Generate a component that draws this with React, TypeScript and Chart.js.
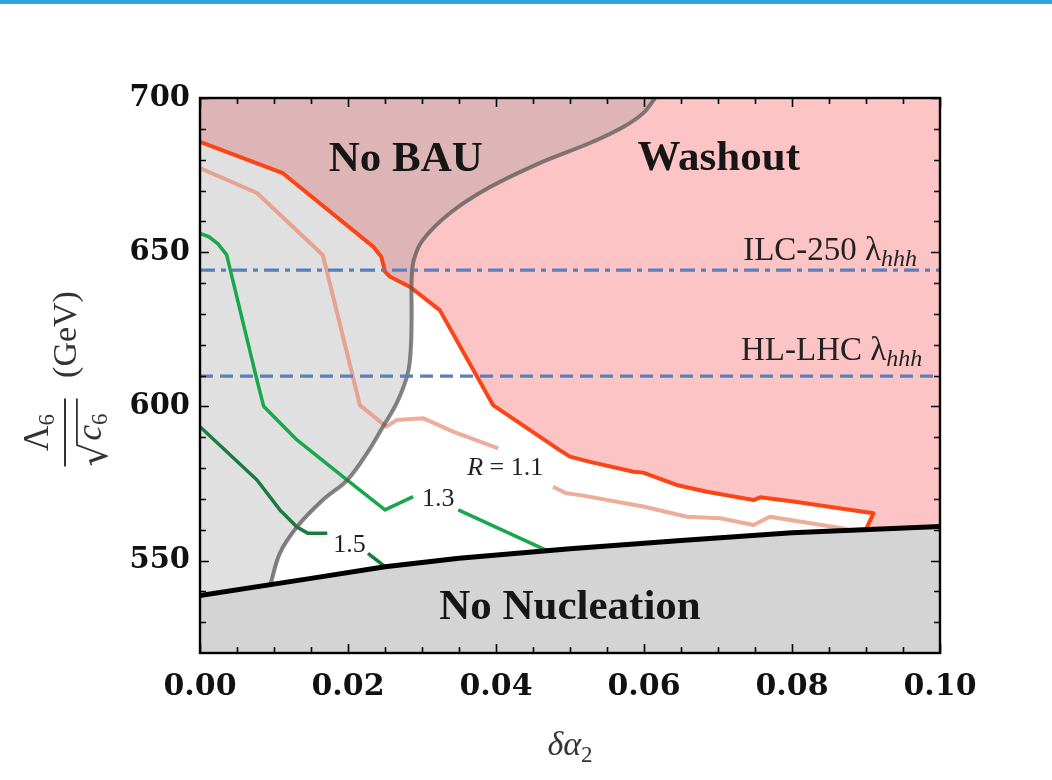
import React, { useEffect, useRef } from 'react';
import { Chart, registerables } from 'chart.js';

Chart.register(...registerables);

// ---------- axes ----------
const X_MIN = 0;
const X_MAX = 0.1;
const Y_MIN = 520;
const Y_MAX = 700;
const xTickValues = [0, 0.02, 0.04, 0.06, 0.08, 0.1];
const xTickLabels = ['0.00', '0.02', '0.04', '0.06', '0.08', '0.10'];
const xMinorTicks = [0.005, 0.01, 0.015, 0.025, 0.03, 0.035, 0.045, 0.05, 0.055, 0.065, 0.07, 0.075, 0.085, 0.09, 0.095];
const yTickValues = [550, 600, 650, 700];
const yTickLabels = ['550', '600', '650', '700'];
const yMinorTicks = [530, 540, 560, 570, 580, 590, 610, 620, 630, 640, 660, 670, 680, 690];

// ---------- curves ----------
// nucleation boundary (black)
const nucX = [0, 0.015, 0.025, 0.035, 0.05, 0.065, 0.08, 0.1];
const nucY = [538.6, 544.2, 548.0, 550.7, 553.8, 556.5, 559.0, 561.0];

// BAU boundary (grey), bottom to top
const bauX = [0.0095, 0.0108, 0.0131, 0.0166, 0.0199, 0.0226, 0.0247, 0.0266, 0.0281, 0.0285, 0.0286, 0.0286, 0.0289, 0.0301, 0.0338, 0.0392, 0.0459, 0.0527, 0.0572, 0.0599, 0.0615];
const bauY = [542.0, 552.4, 560.9, 569.6, 576.1, 584.9, 593.3, 601.1, 610.8, 619.2, 630.0, 641.0, 647.5, 653.9, 662.7, 671.1, 678.9, 685.4, 690.6, 695.1, 700.0];

// washout boundary (red)
const washX = [0, 0.0112, 0.0234, 0.0245, 0.025, 0.0257, 0.0284, 0.0324, 0.0396, 0.0486, 0.05, 0.0527, 0.0586, 0.0599, 0.0644, 0.0685, 0.0748, 0.0757, 0.0802, 0.091, 0.0901];
const washY = [685.8, 675.6, 651.8, 648.5, 643.7, 642.0, 638.7, 631.2, 600.4, 585.8, 583.7, 582.0, 578.8, 578.5, 574.5, 572.3, 569.6, 570.5, 569.1, 565.3, 560.6];

// R = 1.1 contour (salmon), null = label gap
const r11X = [0, 0.0077, 0.0166, 0.0216, 0.0252, 0.0266, 0.0302, 0.0342, 0.0403, null, 0.0477, 0.0495, 0.0514, 0.0599, 0.0658, 0.0703, 0.0748, 0.077, 0.0874];
const r11Y = [677.3, 669.2, 649.1, 600.4, 593.4, 595.6, 596.1, 591.8, 586.4, null, 573.9, 571.8, 571.2, 567.5, 564.2, 563.7, 561.5, 564.2, 560.2];

// R = 1.3 contour (green)
const r13X = [0, 0.0012, 0.0024, 0.0036, 0.0077, 0.0086, 0.0131, 0.0199, 0.025, 0.0288, null, 0.0349, 0.0469];
const r13Y = [656.1, 655.0, 652.8, 649.1, 608.5, 600.0, 589.1, 576.1, 566.4, 570.7, null, 566.4, 553.2];

// R = 1.5 contour (dark green)
const r15X = [0, 0.0077, 0.0108, 0.0131, 0.0146, 0.0172, null, 0.0227, 0.025];
const r15Y = [593.4, 576.1, 566.4, 560.9, 558.8, 558.8, null, 552.3, 548.0];

// horizontal sensitivity lines
const ilcY = 644.2;
const hlY = 609.8;

// ---------- annotation texts (data coords) ----------
const regionLabels = [
  { text: 'No BAU', x: 0.0278, y: 676.4 },
  { text: 'Washout', x: 0.0701, y: 676.6 },
  { text: 'No Nucleation', x: 0.05, y: 531.0 },
];
const lineLabels = [
  { main: 'ILC-250 ', x: 0.0969, y: 647.5 },
  { main: 'HL-LHC ', x: 0.0976, y: 615.0 },
];
const contourLabels = [
  { italic: 'R', text: ' = 1.1', x: 0.0361, y: 577.7 },
  { italic: '', text: '1.3', x: 0.0300, y: 567.7 },
  { italic: '', text: '1.5', x: 0.0180, y: 552.9 },
];

type P = { x: number | null; y: number | null };
const pts = (xs: (number | null)[], ys: (number | null)[]): P[] => xs.map((x, i) => ({ x, y: ys[i] }));

const SERIF = '"Liberation Serif", "DejaVu Serif", serif';

const framePlugin = {
  id: 'frameTicks',
  afterDatasetsDraw(chart: any) {
    const { ctx, chartArea: a, scales } = chart;
    const xs = scales.x;
    const ys = scales.y;
    ctx.save();
    ctx.strokeStyle = '#000';
    ctx.lineWidth = 1.6;
    const major = 9;
    const minor = 6;
    const drawX = (v: number, len: number) => {
      const px = Math.round(xs.getPixelForValue(v)) + 0.5;
      ctx.beginPath();
      ctx.moveTo(px, a.bottom);
      ctx.lineTo(px, a.bottom - len);
      ctx.moveTo(px, a.top);
      ctx.lineTo(px, a.top + len);
      ctx.stroke();
    };
    const drawY = (v: number, len: number) => {
      const py = Math.round(ys.getPixelForValue(v)) + 0.5;
      ctx.beginPath();
      ctx.moveTo(a.left, py);
      ctx.lineTo(a.left + len, py);
      ctx.moveTo(a.right, py);
      ctx.lineTo(a.right - len, py);
      ctx.stroke();
    };
    xTickValues.forEach((v) => drawX(v, major));
    xMinorTicks.forEach((v) => drawX(v, minor));
    yTickValues.forEach((v) => drawY(v, major));
    yMinorTicks.forEach((v) => drawY(v, minor));
    ctx.lineWidth = 2.4;
    ctx.strokeRect(a.left, a.top, a.right - a.left, a.bottom - a.top);
    ctx.restore();
  },
};

const textPlugin = {
  id: 'texts',
  afterDraw(chart: any) {
    const { ctx, scales } = chart;
    const xs = scales.x;
    const ys = scales.y;
    ctx.save();
    ctx.textBaseline = 'alphabetic';

    // region labels
    ctx.fillStyle = '#161616';
    ctx.font = 'bold 43px ' + SERIF;
    ctx.textAlign = 'center';
    regionLabels.forEach((l) => ctx.fillText(l.text, xs.getPixelForValue(l.x), ys.getPixelForValue(l.y)));

    // sensitivity line labels
    ctx.fillStyle = '#222';
    ctx.textAlign = 'left';
    lineLabels.forEach((l) => {
      ctx.font = '33px ' + SERIF;
      const w1 = ctx.measureText(l.main + 'λ').width;
      ctx.font = 'italic 24px ' + SERIF;
      const w2 = ctx.measureText('hhh').width;
      const right = xs.getPixelForValue(l.x);
      const base = ys.getPixelForValue(l.y);
      const left = right - w1 - w2;
      ctx.font = '33px ' + SERIF;
      ctx.fillText(l.main + 'λ', left, base);
      ctx.font = 'italic 24px ' + SERIF;
      ctx.fillText('hhh', left + w1, base + 6);
    });

    // contour labels
    contourLabels.forEach((l) => {
      let px = xs.getPixelForValue(l.x);
      const py = ys.getPixelForValue(l.y);
      if (l.italic) {
        ctx.font = 'italic 26px ' + SERIF;
        ctx.fillText(l.italic, px, py);
        px += ctx.measureText(l.italic).width;
      }
      ctx.font = '26px ' + SERIF;
      ctx.fillText(l.text, px, py);
    });

    // x axis title: δα₂
    ctx.fillStyle = '#333';
    ctx.font = 'italic 34px ' + SERIF;
    const wA = ctx.measureText('δα').width;
    ctx.font = '23px ' + SERIF;
    const wS = ctx.measureText('2').width;
    const cx = (xs.left + xs.right) / 2;
    const lx = cx - (wA + wS) / 2;
    ctx.font = 'italic 34px ' + SERIF;
    ctx.fillText('δα', lx, 755);
    ctx.font = '23px ' + SERIF;
    ctx.fillText('2', lx + wA, 762);

    // y axis title: Λ6 / √c6 (GeV)
    ctx.save();
    ctx.translate(65, (ys.top + ys.bottom) / 2 + 57);
    ctx.rotate(-Math.PI / 2);
    ctx.fillStyle = '#333';
    ctx.font = '35px ' + SERIF;
    const wL = ctx.measureText('Λ').width;
    ctx.font = '23px ' + SERIF;
    const w6 = ctx.measureText('6').width;
    const nl = -(wL + w6) / 2;
    ctx.font = '35px ' + SERIF;
    ctx.fillText('Λ', nl, -17);
    ctx.font = '23px ' + SERIF;
    ctx.fillText('6', nl + wL, -11);
    ctx.fillRect(-34, -1, 68, 2);
    // denominator
    ctx.font = '38px "DejaVu Serif", serif';
    const rm = ctx.measureText('√');
    const rLeft = -34;
    const rBase = 42;
    ctx.fillText('√', rLeft, rBase);
    const rTop = rBase - rm.actualBoundingBoxAscent;
    const rRight = rLeft + rm.actualBoundingBoxRight;
    ctx.fillRect(rRight - 1.5, rTop, 34 - rRight + 1.5, 1.8);
    ctx.font = 'italic 35px ' + SERIF;
    const wc = ctx.measureText('c').width;
    ctx.fillText('c', rRight + 1, 36);
    ctx.font = '23px ' + SERIF;
    ctx.fillText('6', rRight + 1 + wc, 42);
    // (GeV)
    ctx.font = '34px ' + SERIF;
    ctx.textAlign = 'center';
    ctx.fillText('(GeV)', 98, 11);
    ctx.restore();

    ctx.restore();
  },
};

export default function App() {
  const ref = useRef<HTMLCanvasElement>(null);

  useEffect(() => {
    const canvas = ref.current;
    if (!canvas) return;

    const nucPts = pts(nucX, nucY) as { x: number; y: number }[];
    const washPts = pts(washX, washY) as { x: number; y: number }[];
    const bauPts = pts(bauX, bauY) as { x: number; y: number }[];

    const washPoly = [
      ...washPts,
      ...nucPts.filter((p) => p.x > washX[washX.length - 1]),
      { x: X_MAX, y: Y_MAX },
      { x: X_MIN, y: Y_MAX },
    ];
    const bauPoly = [
      ...bauPts,
      { x: X_MIN, y: Y_MAX },
      { x: X_MIN, y: nucY[0] },
      ...nucPts.filter((p) => p.x < bauX[0]),
    ];
    const nucPoly = [...nucPts, { x: X_MAX, y: Y_MIN }, { x: X_MIN, y: Y_MIN }];

    const lineDs = (label: string, data: any[], color: string, width: number, extra: any = {}) => ({
      label,
      data,
      borderColor: color,
      borderWidth: width,
      pointRadius: 0,
      fill: false,
      borderCapStyle: 'butt',
      borderJoinStyle: 'round',
      ...extra,
    });
    const fillDs = (label: string, data: any[], color: string) => ({
      label,
      data,
      borderColor: 'transparent',
      borderWidth: 0,
      backgroundColor: color,
      pointRadius: 0,
      fill: 'shape',
    });

    const chart = new Chart(canvas, {
      type: 'line',
      data: {
        datasets: [
          lineDs('ILC-250', [{ x: X_MIN, y: ilcY }, { x: X_MAX, y: ilcY }], '#5b7ebd', 3.3, { borderDash: [15, 6, 5, 6] }),
          lineDs('HL-LHC', [{ x: X_MIN, y: hlY }, { x: X_MAX, y: hlY }], '#5b7ebd', 3.3, { borderDash: [13, 7] }),
          lineDs('Nucleation', nucPts, '#000000', 5),
          fillDs('No Nucleation', nucPoly, '#d4d4d4'),
          lineDs('BAU', bauPts, 'rgba(85,85,85,0.72)', 4, { tension: 0.35 }),
          lineDs('R=1.5', pts(r15X, r15Y), '#1c7a3e', 3.5),
          lineDs('R=1.3', pts(r13X, r13Y), '#16a84a', 3.5),
          lineDs('R=1.1', pts(r11X, r11Y), 'rgba(232,140,116,0.72)', 4),
          lineDs('Washout edge', washPts, '#fb4517', 4),
          fillDs('No BAU', bauPoly, 'rgba(140,140,140,0.27)'),
          fillDs('Washout', washPoly, '#fdc4c6'),
        ],
      } as any,
      options: {
        animation: false,
        responsive: false,
        events: [],
        layout: { padding: { left: 0, right: 112, top: 98, bottom: 0 } },
        plugins: { legend: { display: false }, tooltip: { enabled: false }, title: { display: false } },
        scales: {
          x: {
            type: 'linear',
            min: X_MIN,
            max: X_MAX,
            grid: { display: false, drawTicks: false },
            border: { display: false },
            afterBuildTicks: (s: any) => {
              s.ticks = xTickValues.map((v) => ({ value: v }));
            },
            afterFit: (s: any) => {
              s.height = 127;
            },
            ticks: {
              padding: 16,
              maxRotation: 0,
              autoSkip: false,
              color: '#111',
              font: { family: '"DejaVu Serif", serif', size: 30, weight: 'bold' },
              callback: (_v: any, i: number) => xTickLabels[i],
            },
          },
          y: {
            type: 'linear',
            min: Y_MIN,
            max: Y_MAX,
            grid: { display: false, drawTicks: false },
            border: { display: false },
            afterBuildTicks: (s: any) => {
              s.ticks = yTickValues.map((v) => ({ value: v }));
            },
            afterFit: (s: any) => {
              s.width = 200;
            },
            ticks: {
              padding: 10,
              autoSkip: false,
              color: '#111',
              font: { family: '"DejaVu Serif", serif', size: 29, weight: 'bold' },
              callback: (_v: any, i: number) => yTickLabels[i],
            },
          },
        },
      } as any,
      plugins: [framePlugin, textPlugin],
    });

    return () => chart.destroy();
  }, []);

  return (
    <div style={{ position: 'absolute', left: 0, top: 0, width: 1052, height: 780, background: '#fff' }}>
      <canvas ref={ref} width={1052} height={780} style={{ display: 'block' }} />
      <div style={{ position: 'absolute', left: 0, top: 0, width: 1052, height: 4, background: '#2fa3e0' }} />
    </div>
  );
}
